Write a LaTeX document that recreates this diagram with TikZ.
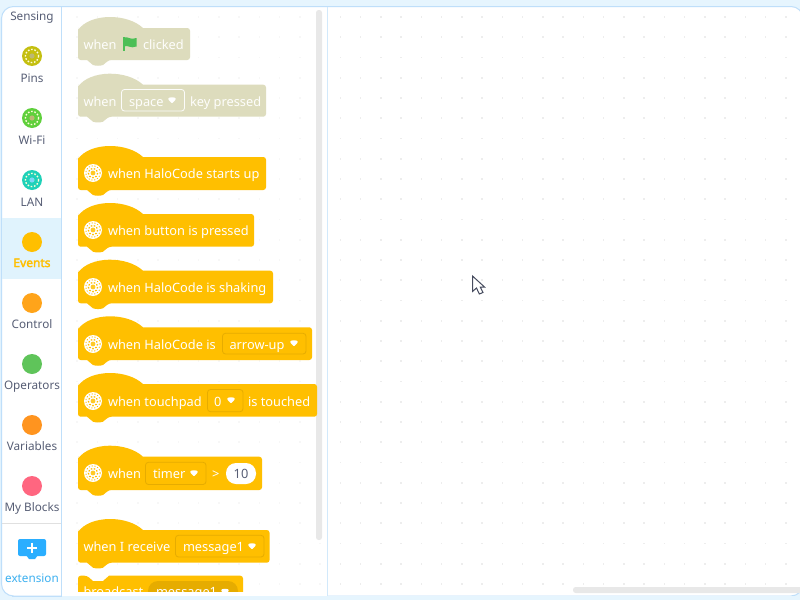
\documentclass[tikz,border=0pt]{standalone}
\usepackage{fontspec}
\setmainfont{Noto Sans}
\newfontfamily\evfont[FakeBold=2.5]{Noto Sans}
\definecolor{sky}{HTML}{E6F5FE}
\definecolor{edgeblue}{HTML}{BFDFFA}
\definecolor{selbg}{HTML}{E0F3FD}
\definecolor{ev}{HTML}{FFBF00}
\definecolor{evdark}{HTML}{E6AC00}
\definecolor{hatgray}{HTML}{DDDCBD}
\definecolor{labelgray}{HTML}{575E75}
\definecolor{barblue}{HTML}{2AAEFF}
\definecolor{barlabel}{HTML}{3CB0F0}
\definecolor{flaggreen}{HTML}{4CBF56}
\tikzset{
  x=0.75pt,y=-0.75pt,
  blocktext/.style={anchor=base west,inner sep=0pt,outer sep=0pt,text=white,font=\fontsize{9.6pt}{11pt}\selectfont},
  hattext/.style={blocktext,text=white!96!hatgray},
  sidelabel/.style={anchor=base,inner sep=0pt,outer sep=0pt,text=labelgray,font=\fontsize{8.8pt}{10pt}\selectfont},
  catdot/.style={circle,minimum size=15pt,inner sep=0pt,outer sep=0pt},
  dropbox/.style={draw=evdark,line width=0.6pt,rounded corners=2.2pt},
  gridboard/.style={fill=black!7,draw=none},
  gridpalette/.style={fill=black!3,draw=none},
  scrollbar/.style={fill=black!9,draw=none,rounded corners=2pt},
}
% #1 right, #2 top, #3 bottom, #4 colour
\newcommand{\hatblock}[4]{%
  \fill[#4] (78,#2+2)
    .. controls (90,#2-15) and (127,#2-15) .. (143,#2)
    [rounded corners=2pt] -- (#1,#2) -- (#1,#3) -- (109,#3) [sharp corners]
    -- (103,#3+5) .. controls (100,#3+6) and (96,#3+6) .. (93,#3+5) -- (87,#3)
    [rounded corners=2pt] -- (78,#3) -- (78,#2+2) [sharp corners] -- cycle;
}
% #1 x, #2 y, #3 colour
\newcommand{\gearicon}[3]{%
  \fill[white] (#1,#2) circle[radius=9];
  \draw[#3,line width=0.6pt,dash pattern=on 0.9pt off 1.3pt] (#1,#2) circle[radius=7.2];
  \draw[#3,line width=0.9pt,dash pattern=on 1.2pt off 1.2pt] (#1,#2) circle[radius=4.7];
  \fill[#3!85!white] (#1,#2) circle[radius=2.4];
}
% #1 y, #2 unused, #3 centre colour
\newcommand{\ringdisc}[3]{%
  \draw[white!85!yellow,line width=1pt,dash pattern=on 1.2pt off 1.3pt] (32,#1) circle[radius=6.6];
  \fill[#3] (32,#1) circle[radius=2.6];
}
% #1 x, #2 y
\newcommand{\droptri}[3]{%
  \fill[#3,rounded corners=0.5pt] (#1-3.6,#2-2.6) -- (#1,#2-3.3) -- (#1+3.6,#2-2.6) -- (#1+3.6,#2-0.8) -- (#1,#2+2.8) -- (#1-3.6,#2-0.8) -- cycle;
}
\begin{document}
\begin{tikzpicture}
\useasboundingbox (0,0) rectangle (800,600);
% frame
\fill[sky] (0,0) rectangle (800,600);
\fill[white,draw=edgeblue,line width=0.75pt,rounded corners=9pt] (1.5,6.5) -- (803,6.5) -- (803,596) -- (1.5,596) -- cycle;
% board dots
\foreach \i in {0,...,22} \foreach \j in {0,...,28}
  \fill[gridboard] (340.4+\i*20.25-0.8,17+\j*20.25-0.8) rectangle ++(1.6,1.6);
\foreach \i in {0,...,12} \foreach \j in {0,...,28}
  \fill[gridpalette] (320.15-\i*20.25-0.8,17+\j*20.25-0.8) rectangle ++(1.6,1.6);
% separators
\draw[edgeblue,line width=0.75pt] (61.5,6.5) -- (61.5,596);
\draw[edgeblue!70!white,line width=0.75pt] (327.5,6.5) -- (327.5,596);
% scrollbars
\fill[scrollbar] (316,10) rectangle (322,540);
\fill[scrollbar] (573,587) rectangle (803,593);
% sidebar
\fill[selbg] (2,218) rectangle (61,279);
\draw[black!12,line width=0.6pt] (2,523.5) -- (61,523.5);
\node[sidelabel] (lsensing) at (32,20) {Sensing};
\node[catdot,fill={rgb,255:red,196;green,191;blue,16}] (cpins) at (32,56) {};
\ringdisc{56}{}{white!45!yellow!70!black}
\node[sidelabel] (lpins) at (32,82) {Pins};
\node[catdot,fill={rgb,255:red,95;green,208;blue,60}] (cwifi) at (32,118) {};
\ringdisc{118}{}{white!45!yellow!70!black}
\node[sidelabel] (lwifi) at (32,144) {Wi-Fi};
\node[catdot,fill={rgb,255:red,31;green,209;blue,184}] (clan) at (32,180) {};
\ringdisc{180}{}{white!50!cyan}
\node[sidelabel] (llan) at (32,206) {LAN};
\node[catdot,fill=ev] (cev) at (32,242) {};
\node[sidelabel,text=ev,font=\evfont\fontsize{9pt}{10pt}\selectfont] (lev) at (32,267) {Events};
\node[catdot,fill={rgb,255:red,255;green,164;blue,26}] (cctl) at (32,303) {};
\node[sidelabel] (lctl) at (32,328) {Control};
\node[catdot,fill={rgb,255:red,95;green,196;blue,90}] (cop) at (32,364) {};
\node[sidelabel] (lop) at (32,389) {Operators};
\node[catdot,fill={rgb,255:red,255;green,148;blue,31}] (cvar) at (32,425) {};
\node[sidelabel] (lvar) at (32,450) {Variables};
\node[catdot,fill={rgb,255:red,255;green,102;blue,128}] (cmy) at (32,486) {};
\node[sidelabel] (lmy) at (32,511) {My Blocks};
% extension
\fill[barblue,rounded corners=1.5pt] (18,539) rectangle (46,556);
\fill[barblue] (26,555) -- (38,555) -- (35,559) -- (29,559) -- cycle;
\draw[white,line width=1.5pt] (27,547.5) -- (37,547.5) (32,542.5) -- (32,552.5);
\node[sidelabel,text=barlabel] (lext) at (32,582) {extension};
% grey hats
\hatblock{190}{28}{60}{hatgray}
\node[hattext] (t1a) at (83.5,49) {when};
\fill[flaggreen] (123,37) rectangle (124.5,51);
\fill[flaggreen] (124,37.5) .. controls (128,36) and (130,40.5) .. (136.5,38) -- (136.5,46.5) .. controls (130,49) and (128,44.5) .. (124,46.5) -- cycle;
\node[hattext] (t1b) at (143,49) {clicked};
\hatblock{266}{84.7}{116.7}{hatgray}
\node[hattext] (t2a) at (83.5,106) {when};
\draw[white!92!hatgray,line width=0.6pt,rounded corners=2.2pt] (121.5,89.5) rectangle (184.5,111);
\node[hattext] (t2b) at (129,106) {space};
\droptri{172}{100.5}{white}
\node[hattext] (t2c) at (190,106) {key pressed};
% events
\hatblock{266}{157}{190}{ev}
\gearicon{93}{173}{ev}
\node[blocktext] (t3) at (108,178) {when HaloCode starts up};
\hatblock{254}{214}{246.7}{ev}
\gearicon{93}{230}{ev}
\node[blocktext] (t4) at (108,235) {when button is pressed};
\hatblock{273}{270.7}{303.3}{ev}
\gearicon{93}{287}{ev}
\node[blocktext] (t5) at (108,292) {when HaloCode is shaking};
\hatblock{312}{327.3}{360}{ev}
\gearicon{93}{344}{ev}
\node[blocktext] (t6) at (108,349) {when HaloCode is};
\draw[dropbox] (222.5,333.3) rectangle (306,354);
\node[blocktext] (t6b) at (229.5,349) {arrow-up};
\droptri{294}{343.5}{white}
\hatblock{317}{384}{416.7}{ev}
\gearicon{93}{401}{ev}
\node[blocktext] (t7) at (108,406) {when touchpad};
\draw[dropbox] (207.5,389.5) rectangle (243,411.7);
\node[blocktext] (t7b) at (214,406) {0};
\droptri{231}{400.5}{white}
\node[blocktext] (t7c) at (248,406) {is touched};
\hatblock{262}{456.7}{490}{ev}
\gearicon{93}{473}{ev}
\node[blocktext] (t8) at (108,478) {when};
\draw[dropbox] (145.5,462.3) rectangle (206,484.5);
\node[blocktext] (t8b) at (153,478) {timer};
\droptri{194}{473.5}{white}
\node[blocktext] (t8c) at (212,478) {>};
\fill[white,rounded corners=7.5pt] (226,463) rectangle (256,484);
\node[blocktext,anchor=base,text=labelgray] (t8d) at (241,478) {10};
\hatblock{269.5}{530}{562.7}{ev}
\node[blocktext] (t9) at (83.5,551) {when I receive};
\draw[dropbox] (175.5,535.3) rectangle (264,557);
\node[blocktext] (t9b) at (183,551) {message1};
\droptri{252}{546.5}{white}
% clipped stack block
\fill[ev] (78,578) [rounded corners=2pt] -- (78,575.7) -- (87,575.7) [sharp corners] -- (93,581) -- (103,581) -- (109,575.7) [rounded corners=2pt] -- (243,575.7) [sharp corners] -- (243,600) -- (78,600) -- cycle;
\fill[evdark,rounded corners=7.5pt] (148,581) rectangle (238,605);
\node[blocktext] (t10) at (83.5,596.5) {broadcast};
\node[blocktext] (t10b) at (156,596.5) {message1};
\droptri{225}{592}{white}
\fill[white] (62,592) rectangle (327,595.6);
\draw[edgeblue,line width=0.75pt] (12,596) -- (800,596);
\fill[sky] (62,596.4) rectangle (800,600);
% cursor
\draw[fill=white,draw=labelgray!80!black,line width=0.75pt,line join=miter] (472.5,276) -- (472.5,291.5) -- (476.5,288) -- (479.3,294) -- (483,292.5) -- (480.3,287) -- (484.5,287) -- cycle;
\end{tikzpicture}
\end{document}
